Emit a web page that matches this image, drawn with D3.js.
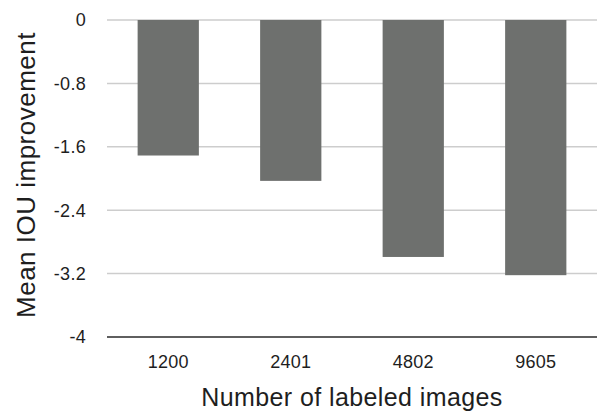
<!DOCTYPE html>
<html>
<head>
<meta charset="utf-8">
<script src="https://cdn.jsdelivr.net/npm/d3@7"></script>
<style>
  html, body { margin: 0; padding: 0; background: #fff; }
  svg { display: block; font-family: "Liberation Sans", Arial, Helvetica, sans-serif; }
</style>
</head>
<body>
<svg id="chart" width="597" height="412"></svg>
<script>
// Labeled-set sizes and the mean IOU change measured for each
const categories = ["1200", "2401", "4802", "9605"];
const values = [-1.71, -2.03, -2.99, -3.22];
const yTicks = [0, -0.8, -1.6, -2.4, -3.2, -4];

const svg = d3.select("#chart");
const plot = { left: 107, right: 597, top: 20, bottom: 337 };

const x = d3.scaleBand()
  .domain(categories)
  .range([plot.left, plot.right])
  .paddingInner(0.5)
  .paddingOuter(0.25);

const y = d3.scaleLinear()
  .domain([0, -4])
  .range([plot.top, plot.bottom]);

// Horizontal gridlines (the -4 line doubles as the baseline)
svg.append("g")
  .selectAll("line")
  .data(yTicks)
  .join("line")
  .attr("x1", plot.left)
  .attr("x2", plot.right)
  .attr("y1", d => y(d))
  .attr("y2", d => y(d))
  .attr("stroke", d => d === -4 ? "#5f5f5f" : "#cdcdcd")
  .attr("stroke-width", d => d === -4 ? 2 : 1.5);

// Y tick labels
svg.append("g")
  .selectAll("text")
  .data(yTicks)
  .join("text")
  .attr("x", 86)
  .attr("y", d => y(d))
  .attr("dy", "0.35em")
  .attr("text-anchor", "end")
  .attr("font-size", 18)
  .attr("letter-spacing", 0.3)
  .attr("fill", "#1e1e1e")
  .text(d => d3.format("")(d).replace("−", "-"));

// Bars hanging down from zero
svg.append("g")
  .selectAll("rect")
  .data(values)
  .join("rect")
  .attr("x", (d, i) => x(categories[i]))
  .attr("width", x.bandwidth())
  .attr("y", d => y(0))
  .attr("height", d => y(d) - y(0))
  .attr("fill", "#6e706e");

// X category labels
svg.append("g")
  .selectAll("text")
  .data(categories)
  .join("text")
  .attr("x", d => x(d) + x.bandwidth() / 2)
  .attr("y", 368)
  .attr("text-anchor", "middle")
  .attr("font-size", 18)
  .attr("letter-spacing", 0.3)
  .attr("fill", "#1e1e1e")
  .text(d => d);

// Axis titles
svg.append("text")
  .attr("x", (plot.left + plot.right) / 2)
  .attr("y", 406)
  .attr("text-anchor", "middle")
  .attr("font-size", 25)
  .attr("letter-spacing", 0.4)
  .attr("fill", "#1e1e1e")
  .text("Number of labeled images");

svg.append("text")
  .attr("transform", "translate(35,175) rotate(-90)")
  .attr("text-anchor", "middle")
  .attr("font-size", 26)
  .attr("letter-spacing", 0.5)
  .attr("fill", "#1e1e1e")
  .text("Mean IOU improvement");
</script>
</body>
</html>
